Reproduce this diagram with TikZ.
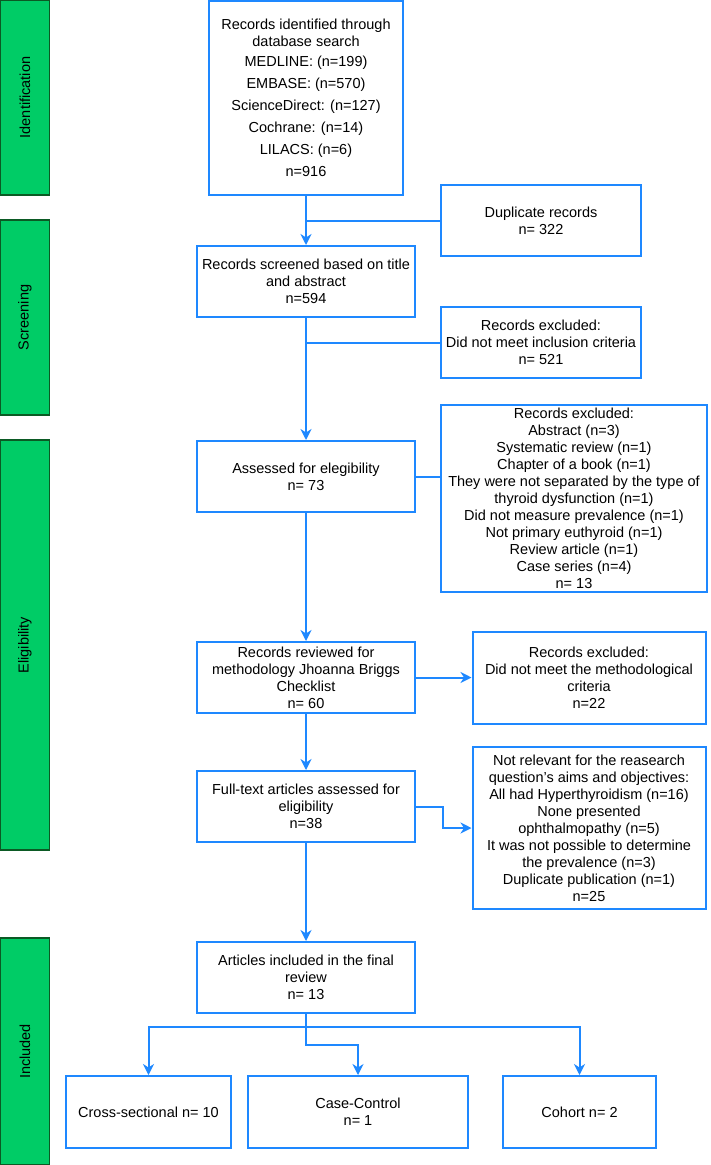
\documentclass[tikz,border=0pt]{standalone}
\usepackage{fontspec}
\setmainfont{Liberation Sans}
\usetikzlibrary{arrows.meta}

\definecolor{flowblue}{HTML}{1E88FF}
\definecolor{stagefill}{HTML}{00CC66}
\definecolor{stageline}{HTML}{0B5A24}

\begin{document}
\begin{tikzpicture}[x=1pt, y=-1pt, font=\fontsize{14.5}{17}\selectfont,
    box/.style={draw=flowblue, line width=2pt, align=center, inner sep=2pt},
    link/.style={flowblue, line width=2pt},
    arr/.style={link, -{Stealth[length=11pt, width=11pt, inset=3.5pt]}},
    stage/.style={draw=stageline, fill=stagefill, line width=1.3pt, rotate=90, minimum height=49}]
  \useasboundingbox (0,0) rectangle (710,1165);
  % bandes vertes des etapes
  \foreach \nm/\ya/\yb/\lbl in {ident/0/195/Identification, screen/220/415/Screening,
                                elig/440/850/Eligibility, incl/938/1165/Included} {
    \node[stage, minimum width={\yb-\ya}] (\nm) at (25,{(\ya+\yb)/2}) {\lbl};
  }
  % colonne principale et exclusions
  \begin{scope}[every node/.style={box, minimum height=71}]
    \node[minimum width=194, minimum height=194] (found) at (306,98)
      {Records identified through\\database search\\[3pt] MEDLINE: (n=199)\\[5pt] EMBASE: (n=570)\\[5pt]
       ScienceDirect: (n=127)\\[5pt] Cochrane: (n=14)\\[5pt] LILACS: (n=6)\\[5pt] n=916};
    \node[minimum width=200] (dup) at (541,220.5) {Duplicate records\\n= 322};
    \node[minimum width=218] (screened) at (306,281.5) {Records screened based on title\\and abstract\\n=594};
    \node[minimum width=200] (excl1) at (541,342.5) {Records excluded:\\Did not meet inclusion criteria\\n= 521};
    \node[minimum width=218] (assessed) at (306,476.5) {Assessed for elegibility\\n= 73};
    \node[minimum width=266, minimum height=187, inner ysep=1pt] (excl2) at (574,498.5)
      {Records excluded:\\Abstract (n=3)\\Systematic review (n=1)\\Chapter of a book (n=1)\\
       They were not separated by the type of\\thyroid dysfunction (n=1)\\Did not measure prevalence (n=1)\\
       Not primary euthyroid (n=1)\\Review article (n=1)\\Case series (n=4)\\n= 13};
    \node[minimum width=218] (reviewed) at (306,677.5) {Records reviewed for\\methodology Jhoanna Briggs\\Checklist\\n= 60};
    \node[minimum width=233, minimum height=92] (excl3) at (589,678)
      {Records excluded:\\Did not meet the methodological\\criteria\\n=22};
    \node[minimum width=233, minimum height=162] (excl4) at (589,828)
      {Not relevant for the reasearch\\question's aims and objectives:\\All had Hyperthyroidism (n=16)\\
       None presented\\ophthalmopathy (n=5)\\It was not possible to determine\\the prevalence (n=3)\\
       Duplicate publication (n=1)\\n=25};
    \node[minimum width=218] (fulltext) at (306,806.5) {Full-text articles assessed for\\eligibility\\n=38};
    \node[minimum width=218] (included) at (306,977.5) {Articles included in the final\\review\\n= 13};
    \node[minimum width=165, minimum height=72] (cross) at (148.5,1112) {Cross-sectional n= 10};
    \node[minimum width=220, minimum height=72] (casectrl) at (358,1112) {Case-Control\\n= 1};
    \node[minimum width=153, minimum height=72] (cohort) at (579.5,1112) {Cohort n= 2};
  \end{scope}
  \draw[arr] (found) -- (screened);
  \draw[link] (found.south |- dup.west) -- (dup.west);
  \draw[link] (screened.south |- excl1.west) -- (excl1.west);
  \draw[arr] (screened) -- (assessed);
  \draw[link] (assessed.east) -- (assessed.east -| excl2.west);
  \draw[arr] (assessed) -- (reviewed);
  \draw[arr] (reviewed) -- (reviewed -| excl3.west);
  \draw[arr] (reviewed) -- (fulltext);
  \draw[arr] (fulltext.east) -- ++(27,0) |- (excl4.west);
  \draw[arr] (fulltext) -- (included);
  % repartition par type d'etude
  \draw[arr] (included.south) -- ++(0,13) coordinate (split) -| (cross.north);
  \draw[arr] (split) -| (cohort.north);
  \draw[arr] (included.south) -- ++(0,31) -| (casectrl.north);
\end{tikzpicture}
\end{document}
